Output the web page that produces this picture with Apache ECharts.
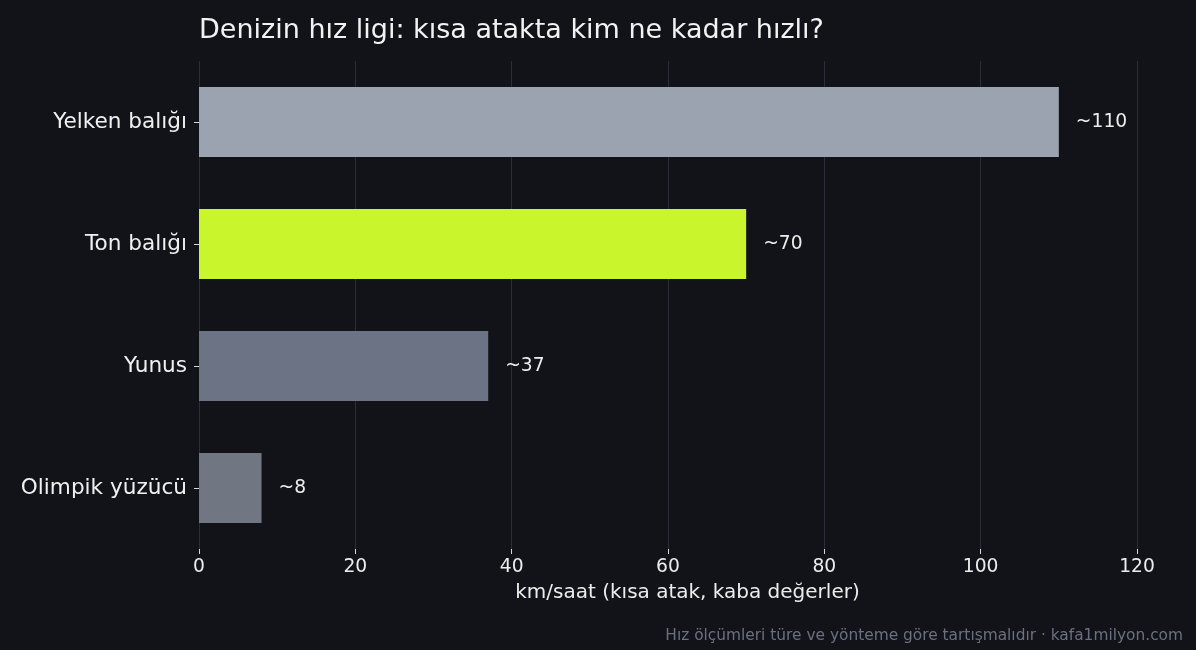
<!DOCTYPE html>
<html lang="tr">
<head>
<meta charset="UTF-8">
<title>Denizin hız ligi</title>
<script src="https://cdn.jsdelivr.net/npm/echarts@6.0.0/dist/echarts.min.js"></script>
<style>
  html, body { margin: 0; padding: 0; background: #111318; }
  #main { width: 1196px; height: 650px; }
</style>
</head>
<body>
<div id="main"></div>
<script>
  // Veriler
  const categories = ['Yelken balığı', 'Ton balığı', 'Yunus', 'Olimpik yüzücü'];
  const speeds = [110, 70, 37, 8];
  const barColors = ['#9ca3b0', '#c8f52b', '#6b7384', '#707783'];
  const xTicks = [0, 20, 40, 60, 80, 100, 120];

  const font = 'DejaVu Sans';
  const chart = echarts.init(document.getElementById('main'));

  const option = {
    backgroundColor: '#111318',
    animation: false,
    textStyle: { fontFamily: font },
    title: [
      {
        text: 'Denizin hız ligi: kısa atakta kim ne kadar hızlı?',
        left: 199,
        top: 17,
        padding: 0,
        textStyle: { color: '#f2f2f2', fontSize: 27, fontWeight: 'normal', fontFamily: font }
      },
      {
        text: 'Hız ölçümleri türe ve yönteme göre tartışmalıdır · kafa1milyon.com',
        right: 13,
        bottom: 7,
        padding: 0,
        textStyle: { color: '#6b7080', fontSize: 15.4, fontWeight: 'normal', fontFamily: font }
      }
    ],
    grid: { left: 199, right: 59, top: 61, height: 488 },
    xAxis: {
      type: 'value',
      min: xTicks[0],
      max: xTicks[xTicks.length - 1],
      interval: 20,
      name: 'km/saat (kısa atak, kaba değerler)',
      nameLocation: 'middle',
      nameGap: 34,
      nameTextStyle: { color: '#ececec', fontSize: 20, padding: [0, 0, 0, 39] },
      axisLine: { show: false },
      axisTick: { show: true, length: 5, lineStyle: { color: '#d8d8d8' } },
      axisLabel: { color: '#ececec', fontSize: 18.7, margin: 9 },
      splitLine: { show: true, lineStyle: { color: '#2a2e38', width: 1 } }
    },
    yAxis: {
      type: 'category',
      data: categories,
      inverse: true,
      axisLine: { show: false },
      axisTick: { show: true, alignWithLabel: true, length: 5, lineStyle: { color: '#d8d8d8' } },
      axisLabel: { color: '#f0f0f0', fontSize: 21.6, margin: 12 },
      splitLine: { show: false }
    },
    series: [
      {
        type: 'bar',
        barWidth: 70,
        data: speeds.map((v, i) => ({ value: v, itemStyle: { color: barColors[i] } })),
        label: {
          show: true,
          position: 'right',
          distance: 17,
          color: '#ececec',
          fontSize: 18.7,
          formatter: p => '~' + p.value
        }
      }
    ]
  };

  chart.setOption(option);
</script>
</body>
</html>
